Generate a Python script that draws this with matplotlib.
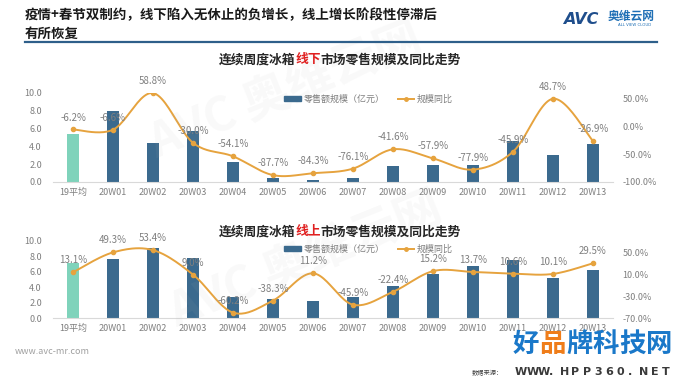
import numpy as np
import matplotlib
matplotlib.use("Agg")
import matplotlib.pyplot as plt
from matplotlib.lines import Line2D
from matplotlib.patches import Patch

plt.rcParams['font.family'] = ['Noto Sans CJK SC', 'DejaVu Sans']

# ---------------- datos ----------------
categorias = ["19平均", "20W01", "20W02", "20W03", "20W04", "20W05", "20W06",
              "20W07", "20W08", "20W09", "20W10", "20W11", "20W12", "20W13"]

# linea superior: 线下
ventas_offline = [5.4, 8.0, 4.4, 5.7, 2.2, 0.5, 0.2, 0.5, 1.8, 1.95, 1.95, 4.6, 3.0, 4.3]
yoy_offline = [-6.2, -6.6, 58.8, -30.0, -54.1, -87.7, -84.3, -76.1, -41.6, -57.9, -77.9, -45.9, 48.7, -26.9]

# linea inferior: 线上
ventas_online = [7.2, 7.7, 9.1, 7.8, 2.7, 2.5, 2.2, 2.7, 4.2, 5.7, 6.7, 7.5, 5.2, 6.2]
yoy_online = [13.1, 49.3, 53.4, 9.0, -60.2, -38.3, 11.2, -45.9, -22.4, 15.2, 13.7, 10.6, 10.1, 29.5]

ticks_izq = [0, 2, 4, 6, 8, 10]
ticks_der_offline = [-100, -50, 0, 50]
ticks_der_online = [-70, -30, 10, 50]

AZUL = "#3b6a8e"
TEAL = "#7fd3bb"
NARANJA = "#e6a33e"
GRIS = "#7f7f7f"


def suavizar(x, y, n=24):
    # curva Catmull-Rom para imitar la linea suavizada de Excel
    x = np.asarray(x, float)
    y = np.asarray(y, float)
    px = np.concatenate([[x[0]], x, [x[-1]]])
    py = np.concatenate([[y[0]], y, [y[-1]]])
    xs, ys = [], []
    t = np.linspace(0, 1, n)
    for i in range(1, len(px) - 2):
        for p, out in ((px, xs), (py, ys)):
            p0, p1, p2, p3 = p[i - 1], p[i], p[i + 1], p[i + 2]
            out.extend(0.5 * ((2 * p1) + (-p0 + p2) * t
                              + (2 * p0 - 5 * p1 + 4 * p2 - p3) * t ** 2
                              + (-p0 + 3 * p1 - 3 * p2 + p3) * t ** 3))
    return np.array(xs), np.array(ys)


def titulo(fig, y, palabra):
    partes = [("连续周度冰箱", "#262626"), (palabra, "#e02020"), ("市场零售规模及同比走势", "#262626")]
    r = fig.canvas.get_renderer()
    anchos = []
    for txt, _ in partes:
        t = fig.text(0, 0, txt, fontsize=9.2, fontweight='bold')
        anchos.append(t.get_window_extent(renderer=r).width / fig.dpi / fig.get_figwidth())
        t.remove()
    x0 = 0.5 - sum(anchos) / 2
    for (txt, col), w in zip(partes, anchos):
        fig.text(x0, y, txt, fontsize=9.2, fontweight='bold', color=col, ha='left', va='center')
        x0 += w


def grafico(fig, rect, ventas, yoy, ticks_der, lim_der, y_leyenda):
    ax = fig.add_axes(rect)
    x = np.arange(len(categorias))
    colores = [TEAL] + [AZUL] * (len(categorias) - 1)
    ax.bar(x, ventas, width=0.3, color=colores, zorder=2)
    ax.set_xlim(-0.5, len(categorias) - 0.5)
    ax.set_ylim(0, 10)
    ax.set_yticks(ticks_izq)
    ax.set_yticklabels([f"{v:.1f}" for v in ticks_izq])
    ax.set_xticks(x)
    ax.set_xticklabels(categorias)
    ax.tick_params(length=0, labelsize=6.5, labelcolor=GRIS)
    ax.tick_params(axis='y', pad=8)
    ax.tick_params(axis='x', pad=4)
    for s in ["top", "right", "left"]:
        ax.spines[s].set_visible(False)
    ax.spines["bottom"].set_color("#d9d9d9")

    ax2 = ax.twinx()
    xs, ys = suavizar(x, yoy)
    ax2.plot(xs, ys, color=NARANJA, lw=1.4, zorder=3)
    ax2.plot(x, yoy, 'o', color=NARANJA, ms=3, zorder=4)
    for xi, v in zip(x, yoy):
        ax2.annotate(f"{v:.1f}%", (xi, v), xytext=(0, 5), textcoords='offset points',
                     ha='center', va='bottom', fontsize=7, color=GRIS, zorder=5)
    ax2.set_ylim(*lim_der)
    ax2.set_yticks(ticks_der)
    ax2.set_yticklabels([f"{v:.1f}%" for v in ticks_der])
    ax2.tick_params(length=0, labelsize=6.5, labelcolor=GRIS, pad=7)
    for s in ax2.spines.values():
        s.set_visible(False)

    manejadores = [Patch(color=AZUL),
                   Line2D([0], [0], color=NARANJA, lw=1.4, marker='o', ms=2.5)]
    fig.legend(manejadores, ["零售额规模（亿元）", "规模同比"], loc='center',
               bbox_to_anchor=(0.542, y_leyenda), ncol=2, frameon=False, fontsize=6.5,
               labelcolor=GRIS, handlelength=1.8, handleheight=0.5, columnspacing=1.5,
               handletextpad=0.3)
    return ax


fig = plt.figure(figsize=(6.8, 3.83), dpi=100)
fig.patch.set_facecolor("white")

# marcas de agua tenues
for (wx, wy) in [(0.42, 0.76), (0.45, 0.32)]:
    fig.text(wx, wy, "AVC 奥维云网", fontsize=34, fontweight='bold', color="#b0b0b0",
             alpha=0.08, rotation=22, ha='center', va='center', zorder=0)

# encabezado
fig.text(25 / 680, 1 - 15 / 383, "疫情+春节双制约，线下陷入无休止的负增长，线上增长阶段性停滞后",
         fontsize=9.7, fontweight='bold', color="#1a1a1a", va='center', ha='left')
fig.text(25 / 680, 1 - 34 / 383, "有所恢复", fontsize=9.7, fontweight='bold',
         color="#1a1a1a", va='center', ha='left')
fig.add_artist(Line2D([25 / 680, 657 / 680], [1 - 42 / 383] * 2, color="#2e5f8a", lw=1.6))

# logo
fig.text(563 / 680, 1 - 19 / 383, "AVC", fontsize=11.5, fontweight='bold', style='italic',
         color="#1f4e8c", va='center', ha='left', family='DejaVu Sans')
fig.text(608 / 680, 1 - 16 / 383, "奥维云网", fontsize=8.5, fontweight='bold',
         color="#1f6fb5", va='center', ha='left')
fig.text(618 / 680, 1 - 25 / 383, "ALL VIEW CLOUD", fontsize=2.8, color="#1f6fb5",
         va='center', ha='left', family='DejaVu Sans')

titulo(fig, 1 - 60 / 383, "线下")
titulo(fig, 1 - 232 / 383, "线上")

grafico(fig, [53 / 680, 1 - 182 / 383, 560 / 680, 89 / 383], ventas_offline, yoy_offline,
        ticks_der_offline, (-100, 59), 1 - 99 / 383)
grafico(fig, [53 / 680, 1 - 318 / 383, 560 / 680, 77 / 383], ventas_online, yoy_online,
        ticks_der_online, (-70, 70), 1 - 249 / 383)

# pie
fig.text(15 / 680, 1 - 351 / 383, "www.avc-mr.com", fontsize=6.5, color="#a0a0a0",
         va='center', ha='left')
colores_marca = ["#1a78c9", "#ef7d1a", "#1a78c9", "#1a78c9", "#1a78c9", "#1a78c9"]
xm = 513
for ch, col in zip("好品牌科技网", colores_marca):
    fig.text(xm / 680, 1 - 344 / 383, ch, fontsize=19, fontweight='bold', color=col,
             va='center', ha='left')
    xm += 26.5
fig.text(472 / 680, 1 - 373 / 383, "数据来源：", fontsize=4.5, color="#404040",
         va='center', ha='left')
xm = 515
for ch in "WWW.HPP360.NET":
    fig.text(xm / 680, 1 - 372 / 383, ch, fontsize=8, fontweight='bold', color="#3a3a3a",
             va='center', ha='left', family='DejaVu Sans')
    xm += 11.3

fig.savefig("out.png", dpi=100)
